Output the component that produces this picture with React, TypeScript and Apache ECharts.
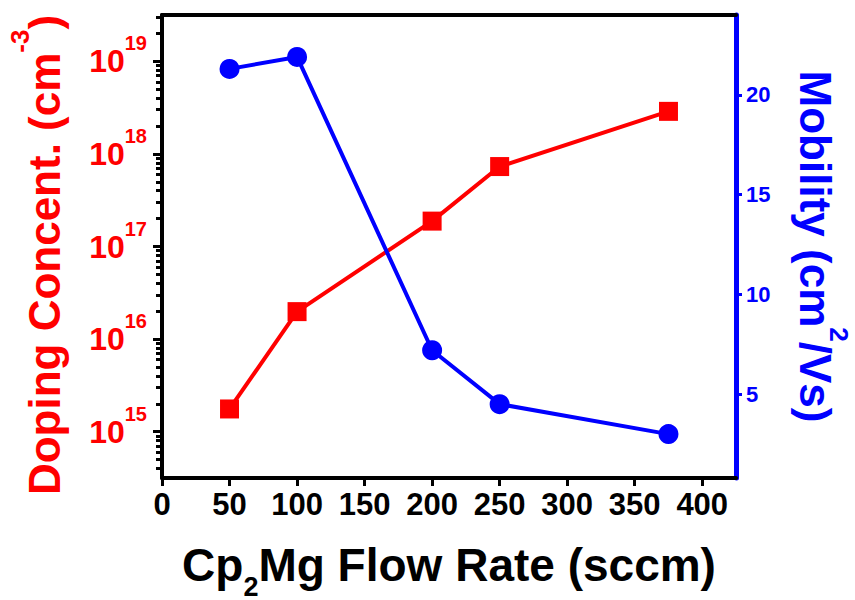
import React, { useEffect, useRef } from 'react';
import * as echarts from 'echarts';

// ---- data ----
const flowRates = [50, 100, 200, 250, 375]; // sccm
const dopingConc = [1.76e15, 1.98e16, 1.88e17, 7.3e17, 2.88e18]; // cm^-3
const mobility = [21.3, 21.9, 7.2, 4.5, 3.0]; // cm^2/Vs

// ---- tick labels ----
const xTickValues = [0, 50, 100, 150, 200, 250, 300, 350, 400];
const dopingDecades = [15, 16, 17, 18, 19];
const mobilityTicks = [5, 10, 15, 20];
const minorMultipliers = [2, 3, 4, 5, 6, 7, 8, 9];

const FONT = '"Liberation Sans", Arial, Helvetica, sans-serif';
const RED = '#ff0000';
const BLUE = '#0000ff';
const BLACK = '#000000';

export default function App() {
  const ref = useRef<HTMLDivElement>(null);

  useEffect(() => {
    document.body.style.margin = '0';
    const chart = echarts.init(ref.current as HTMLDivElement, null, { renderer: 'svg' });

    const minorTicks: number[] = [];
    for (let d = 14; d <= 19; d++) {
      for (const m of minorMultipliers) {
        const v = d + Math.log10(m);
        if (v > 14.5 && v < 19.5) minorTicks.push(Number(v.toFixed(6)));
      }
    }

    const option: any = {
      animation: false,
      backgroundColor: '#ffffff',
      textStyle: { fontFamily: FONT },
      grid: { left: 162, right: 119, top: 15, bottom: 122, containLabel: false, outerBoundsMode: 'none' },
      xAxis: [
        {
          type: 'value',
          position: 'bottom',
          min: 0,
          max: 425,
          axisLine: { show: true, onZero: false, lineStyle: { color: BLACK, width: 4 } },
          axisTick: { show: true, customValues: xTickValues, length: 8, lineStyle: { color: BLACK, width: 3 } },
          axisLabel: {
            show: true,
            customValues: xTickValues,
            formatter: (v: number) => (xTickValues.includes(v) ? String(v) : ''),
            fontSize: 31,
            fontWeight: 'bold',
            color: BLACK,
            fontFamily: FONT,
            margin: 11,
          },
          splitLine: { show: false },
          name: '{t|Cp}{sub|2}{t|Mg Flow Rate (sccm)}',
          nameLocation: 'middle',
          nameGap: 52,
          nameMoveOverlap: false,
          nameTextStyle: {
            fontFamily: FONT,
            rich: {
              t: { fontSize: 46, fontWeight: 'bold', color: BLACK, fontFamily: FONT, lineHeight: 70 },
              sub: { fontSize: 27, fontWeight: 'bold', color: BLACK, fontFamily: FONT, lineHeight: 27, verticalAlign: 'bottom' },
            },
          },
        },
        {
          type: 'value',
          position: 'top',
          min: 0,
          max: 425,
          axisLine: { show: true, onZero: false, lineStyle: { color: BLACK, width: 4 } },
          axisTick: { show: false },
          axisLabel: { show: false },
          splitLine: { show: false },
        },
      ],
      yAxis: [
        {
          type: 'log',
          position: 'left',
          min: Math.pow(10, 14.5),
          max: Math.pow(10, 19.5),
          axisLine: { show: true, onZero: false, lineStyle: { color: BLACK, width: 4 } },
          axisTick: { show: false },
          axisLabel: { show: false },
          splitLine: { show: false },
          minorTick: { show: false },
          name: '{t|Doping Concent. (cm}{sup|-3}{t|)}',
          nameLocation: 'middle',
          nameRotate: 90,
          nameGap: 81,
          nameMoveOverlap: false,
          nameTextStyle: {
            fontFamily: FONT,
            padding: [0, 17, 0, 0],
            rich: {
              t: { fontSize: 44, fontWeight: 'bold', color: RED, fontFamily: FONT, lineHeight: 74 },
              sup: { fontSize: 26, fontWeight: 'bold', color: RED, fontFamily: FONT, lineHeight: 26, verticalAlign: 'top' },
            },
          },
        },
        {
          type: 'value',
          position: 'left',
          min: 14.5,
          max: 19.5,
          axisLine: { show: false, onZero: false },
          axisTick: { show: true, customValues: dopingDecades, length: 9, lineStyle: { color: BLACK, width: 3 } },
          axisLabel: {
            show: true,
            customValues: dopingDecades,
            margin: 15,
            formatter: (v: number) => (Math.abs(v - Math.round(v)) < 1e-6 ? `{b|10}{s|${Math.round(v)}}` : ''),
            rich: {
              b: { fontSize: 32, fontWeight: 'bold', color: RED, fontFamily: FONT, lineHeight: 56 },
              s: { fontSize: 20, fontWeight: 'bold', color: RED, fontFamily: FONT, lineHeight: 20, verticalAlign: 'top' },
            },
          },
          splitLine: { show: false },
        },
        {
          type: 'value',
          position: 'left',
          min: 14.5,
          max: 19.5,
          axisLine: { show: false, onZero: false },
          axisTick: { show: true, customValues: minorTicks, length: 6, lineStyle: { color: BLACK, width: 3 } },
          axisLabel: { show: false },
          splitLine: { show: false },
        },
        {
          type: 'value',
          position: 'right',
          min: 0.8,
          max: 24,
          axisLine: { show: true, onZero: false, lineStyle: { color: BLUE, width: 5 } },
          axisTick: { show: true, customValues: mobilityTicks, length: 6, lineStyle: { color: BLUE, width: 3 } },
          axisLabel: {
            show: true,
            customValues: mobilityTicks,
            formatter: (v: number) => (mobilityTicks.includes(v) ? String(v) : ''),
            fontSize: 22,
            fontWeight: 'bold',
            color: BLUE,
            fontFamily: FONT,
            margin: 10,
          },
          splitLine: { show: false },
          name: '{t|Mobility (cm}{sup|2}{t|/Vs)}',
          nameLocation: 'middle',
          nameRotate: -90,
          nameGap: 42,
          nameMoveOverlap: false,
          nameTextStyle: {
            fontFamily: FONT,
            rich: {
              t: { fontSize: 44, fontWeight: 'bold', color: BLUE, fontFamily: FONT, lineHeight: 74 },
              sup: { fontSize: 26, fontWeight: 'bold', color: BLUE, fontFamily: FONT, lineHeight: 26, verticalAlign: 'top' },
            },
          },
        },
      ],
      series: [
        {
          type: 'line',
          name: 'Doping Concent.',
          xAxisIndex: 0,
          yAxisIndex: 0,
          data: flowRates.map((x, i) => [x, dopingConc[i]]),
          symbol: 'rect',
          symbolSize: 19,
          lineStyle: { color: RED, width: 4 },
          itemStyle: { color: RED },
          z: 3,
        },
        {
          type: 'line',
          name: 'Mobility',
          xAxisIndex: 0,
          yAxisIndex: 3,
          data: flowRates.map((x, i) => [x, mobility[i]]),
          symbol: 'circle',
          symbolSize: 20,
          lineStyle: { color: BLUE, width: 4 },
          itemStyle: { color: BLUE },
          z: 4,
        },
      ],
    };

    chart.setOption(option);
    return () => chart.dispose();
  }, []);

  return <div ref={ref} style={{ width: 855, height: 600 }} />;
}
